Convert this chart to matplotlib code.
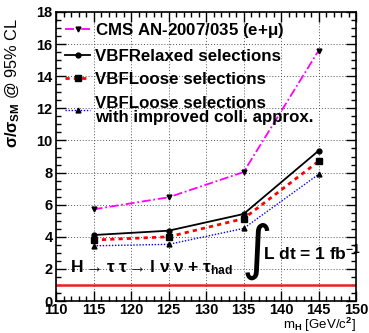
import numpy as np
import matplotlib
matplotlib.use('Agg')
import matplotlib.pyplot as plt
from matplotlib.ticker import MultipleLocator

# Higgs masses and 95% CL limits
masses = [115, 125, 135, 145]
cms_note = [5.71, 6.46, 8.03, 15.59]
vbf_relaxed = [4.11, 4.38, 5.42, 9.36]
vbf_loose = [3.80, 4.00, 5.13, 8.70]
vbf_loose_improved = [3.44, 3.53, 4.52, 7.89]
sm_level = 1.0

plt.rcParams['font.family'] = ['Liberation Sans', 'DejaVu Sans']
plt.rcParams['font.weight'] = 'bold'
plt.rcParams['mathtext.fontset'] = 'custom'
plt.rcParams['mathtext.rm'] = 'Liberation Sans:bold'
plt.rcParams['mathtext.it'] = 'Liberation Sans:bold'
plt.rcParams['mathtext.bf'] = 'Liberation Sans:bold'

fig = plt.figure(figsize=(3.69, 3.33), dpi=100)
ax = fig.add_axes([0.152, 0.096, 0.813, 0.868])

ax.plot(masses, cms_note, color='magenta', linestyle=(0, (5, 1.5, 1, 1.5)), linewidth=1.3,
        marker='v', markersize=3.5, markerfacecolor='black', markeredgecolor='black',
        label=r'CMS AN-2007/035 (e+$\mu$)')
ax.plot(masses, vbf_relaxed, color='black', linestyle='-', linewidth=1.3,
        marker='o', markersize=3.5, label='VBFRelaxed selections')
ax.plot(masses, vbf_loose, color='red', linestyle=(0, (1.5, 1.5)), linewidth=2,
        marker='s', markersize=4, markerfacecolor='black', markeredgecolor='black',
        label='VBFLoose selections')
ax.plot(masses, vbf_loose_improved, color='blue', linestyle=(0, (1, 1.2)), linewidth=1,
        marker='^', markersize=3.5, markerfacecolor='black', markeredgecolor='black',
        label='VBFLoose selections\nwith improved coll. approx.')
ax.axhline(sm_level, color='#ee2020', linewidth=1.8)

ax.set_xlim(110, 150)
ax.set_ylim(0, 18)
ax.xaxis.set_major_locator(MultipleLocator(5))
ax.xaxis.set_minor_locator(MultipleLocator(1))
ax.yaxis.set_major_locator(MultipleLocator(2))
ax.yaxis.set_minor_locator(MultipleLocator(0.5))
ax.tick_params(which='both', direction='in', top=True, right=True, labelsize=10.5)
ax.tick_params(which='major', length=7, width=1)
ax.tick_params(which='minor', length=3.5, width=1)
ax.tick_params(axis='x', pad=1.5)
ax.tick_params(axis='y', pad=2.5)
for s in ax.spines.values():
    s.set_linewidth(1.2)
ax.grid(True, which='major', color='#555555', linestyle=(0, (1, 2)), linewidth=0.7)
for lbl in ax.get_xticklabels() + ax.get_yticklabels():
    lbl.set_fontweight('bold')

ax.set_xlabel(r'm$_{\rm H}$ [GeV/c$^{2}$]', fontsize=9.5, loc='right')
ax.xaxis.set_label_coords(1.0, -0.052)
ax.set_ylabel(r'$\sigma/\sigma_{\rm SM}$ @ 95% CL', fontsize=11.8, loc='top')
ax.yaxis.set_label_coords(-0.115, 0.978)

leg = ax.legend(loc='upper left', bbox_to_anchor=(0.0, 1.0), frameon=False,
                handlelength=1.45, handletextpad=0.3, labelspacing=0.5,
                borderaxespad=0.25, borderpad=0.3, prop={'weight': 'bold', 'size': 12.2})
for t in leg.get_texts():
    t.set_linespacing(0.95)

ax.text(111.9, 1.8, r'H$\rightarrow\tau\;\tau\rightarrow$l $\nu\;\nu$ + $\tau_{\rm had}$',
        fontsize=12.5, va='baseline', ha='left')
ax.text(134.6, 3.1, r'$\int$', fontsize=30, va='center', ha='left',
        fontweight='normal', math_fontfamily='dejavusans')
ax.text(137.6, 3.0, r'L dt = 1 fb$^{-1}$', fontsize=12.5, va='center', ha='left')

fig.savefig('out.png', dpi=100)
